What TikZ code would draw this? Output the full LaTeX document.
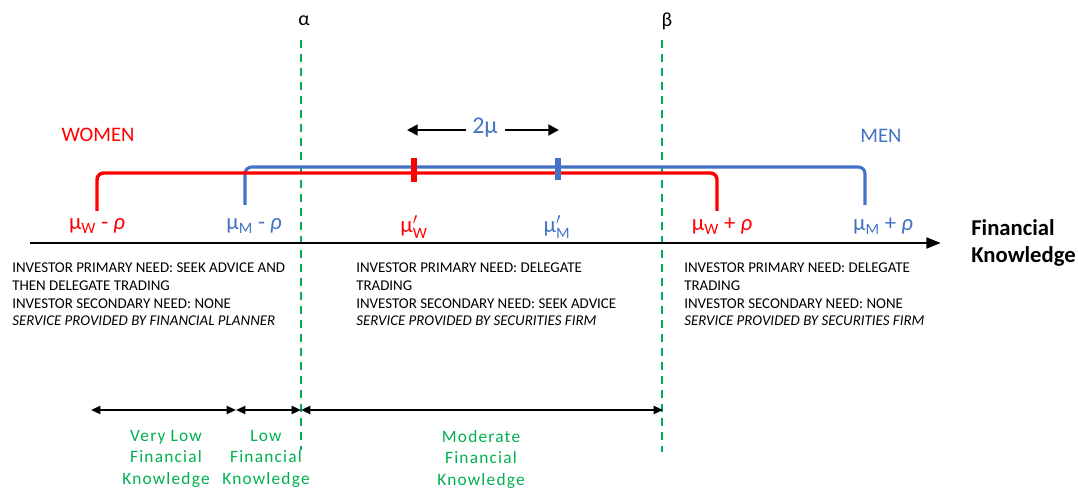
\documentclass[tikz,border=0pt]{standalone}
\usepackage{amsmath}
\usepackage{fontspec}
\setmainfont{Carlito}
\newfontfamily\spacedfont[LetterSpace=7]{Carlito}
\usetikzlibrary{arrows.meta}
\definecolor{wred}{HTML}{FF0000}
\definecolor{mblue}{HTML}{4472C4}
\definecolor{kgreen}{HTML}{00B050}
\newcommand{\mysub}[2]{$\text{#1}_{\text{#2}}$}
\newcommand{\myprimesub}[2]{$\text{#1}'_{\text{#2}}$}
\tikzset{
  sep/.style={kgreen, line width=1.6pt, dash pattern=on 6pt off 4.5pt},
  womenline/.style={wred, line width=2.6pt, rounded corners=5pt},
  menline/.style={mblue, line width=2.3pt, rounded corners=5pt},
  axisline/.style={line width=2.2pt, -{Triangle[length=11pt,width=8pt]}},
  rangearr/.style={line width=1.5pt, {Triangle[length=7pt,width=6pt]}-{Triangle[length=7pt,width=6pt]}},
  mulab/.style={font=\fontsize{17}{19}\selectfont, inner sep=0pt},
  needtext/.style={font=\fontsize{11.2}{13.2}\selectfont, align=left, anchor=north west, inner sep=0pt},
  levellab/.style={kgreen, font=\fontsize{13}{16.2}\selectfont\spacedfont, align=center, anchor=north, inner sep=0pt},
}
\begin{document}
\begin{tikzpicture}[x=0.75pt, y=-0.75pt]
\useasboundingbox (0,0) rectangle (1078,488);
% separators
\node[font=\fontsize{15}{17}\selectfont, inner sep=0pt] (alpha) at (304,21) {α};
\node[font=\fontsize{15}{17}\selectfont, inner sep=0pt] (beta) at (667,21) {β};
\coordinate (a1) at (301,40); \coordinate (a2) at (301,450);
\coordinate (b1) at (662,40); \coordinate (b2) at (662,452);
\draw[sep] (a1) -- (a2);
\draw[sep] (b1) -- (b2);
% brackets
\coordinate (w1) at (97,211); \coordinate (w2) at (97,173);
\coordinate (w3) at (717,173); \coordinate (w4) at (717,211);
\coordinate (m1) at (245,205); \coordinate (m2) at (245,167);
\coordinate (m3) at (865,167); \coordinate (m4) at (865,205);
\draw[menline] (m1) -- (m2) -- (m3) -- (m4);
\draw[womenline] (w1) -- (w2) -- (w3) -- (w4);
\coordinate (rw1) at (414,158); \coordinate (rw2) at (414,182);
\coordinate (rm1) at (558,158); \coordinate (rm2) at (558,180);
\draw[wred, line width=5pt] (rw1) -- (rw2);
\draw[mblue, line width=4.5pt] (rm1) -- (rm2);
% 2mu
\node[mblue, font=\fontsize{18}{20}\selectfont, inner sep=0pt] (twomu) at (485,128) {2μ};
\coordinate (tl) at (407,130); \coordinate (tr) at (559,130);
\draw[line width=2pt, -{Triangle[length=8pt,width=8pt]}] (466,130) -- (tl);
\draw[line width=2pt, -{Triangle[length=8pt,width=8pt]}] (505,130) -- (tr);
% group labels
\node[wred, font=\fontsize{15.5}{17}\selectfont, inner sep=0pt] (women) at (98,135) {WOMEN};
\node[mblue, font=\fontsize{15.5}{17}\selectfont, inner sep=0pt] (men) at (881,136) {MEN};
% mu labels
\node[mulab, wred] (mwm) at (97,226) {\mysub{μ}{W} - \textit{ρ}};
\node[mulab, mblue] (mmm) at (254,226) {\mysub{μ}{M} - \textit{ρ}};
\node[mulab, wred] (mw) at (414,227) {\myprimesub{μ}{W}};
\node[mulab, mblue] (mm) at (557,227) {\myprimesub{μ}{M}};
\node[mulab, wred] (mwp) at (722,226) {\mysub{μ}{W} + \textit{ρ}};
\node[mulab, mblue] (mmp) at (883,226) {\mysub{μ}{M} + \textit{ρ}};
% axis
\coordinate (ax0) at (30,243); \coordinate (ax1) at (941,243);
\draw[axisline] (ax0) -- (ax1);
\node[font=\fontsize{17}{20}\selectfont\bfseries, align=left, anchor=west, inner sep=0pt] (fk) at (971,243) {Financial\\Knowledge};
% need texts
\node[needtext] (t1) at (12,263) {INVESTOR PRIMARY NEED: SEEK ADVICE AND\\THEN DELEGATE TRADING\\INVESTOR SECONDARY NEED: NONE\\\textit{SERVICE PROVIDED BY FINANCIAL PLANNER}};
\node[needtext] (t2) at (356,263) {INVESTOR PRIMARY NEED: DELEGATE\\TRADING\\INVESTOR SECONDARY NEED: SEEK ADVICE\\\textit{SERVICE PROVIDED BY SECURITIES FIRM}};
\node[needtext] (t3) at (684,263) {INVESTOR PRIMARY NEED: DELEGATE\\TRADING\\INVESTOR SECONDARY NEED: NONE\\\textit{SERVICE PROVIDED BY SECURITIES FIRM}};
% range arrows
\coordinate (r0) at (91,410); \coordinate (r1) at (236,410);
\coordinate (r2) at (301,410); \coordinate (r3) at (663,410);
\draw[rangearr] (r0) -- (r1);
\draw[rangearr] (r1) -- (r2);
\draw[rangearr] (r2) -- (r3);
% level labels
\node[levellab] (l1) at (166,430) {Very Low\\Financial\\Knowledge};
\node[levellab] (l2) at (266,430) {Low\\Financial\\Knowledge};
\node[levellab] (l3) at (481,430) {Moderate\\Financial\\Knowledge};
\end{tikzpicture}
\end{document}
